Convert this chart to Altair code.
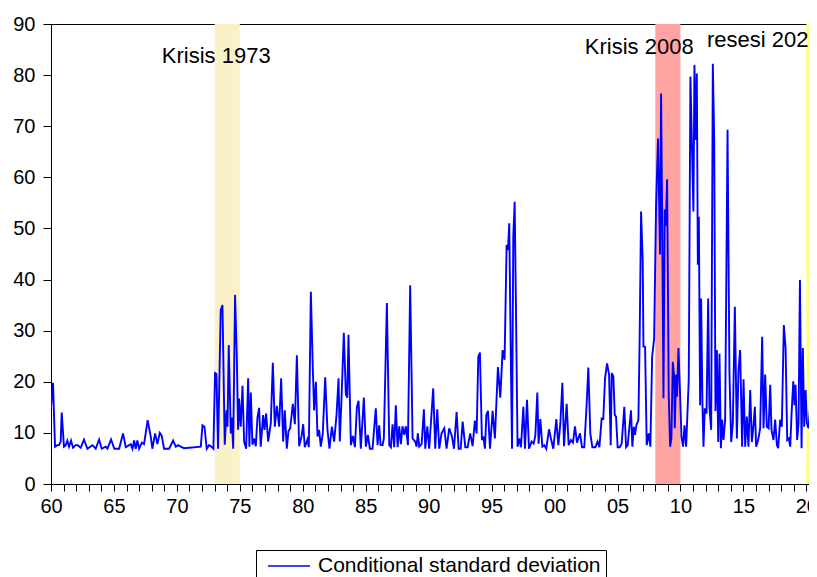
import altair as alt
import pandas as pd

# ---- data ----
years = [
    1960.0, 1960.16, 1960.32, 1960.5, 1960.64, 1960.77, 1960.85, 1961.03, 1961.15, 1961.3,
    1961.43, 1961.59, 1961.75, 1961.96, 1962.12, 1962.36, 1962.62, 1962.89, 1963.29, 1963.55,
    1963.82, 1964.03, 1964.35, 1964.48, 1964.77, 1965.03, 1965.41, 1965.72, 1965.94, 1966.33,
    1966.47, 1966.6, 1966.73, 1966.86, 1967.0, 1967.21, 1967.39, 1967.68, 1967.92, 1968.05,
    1968.27, 1968.45, 1968.64, 1968.8, 1968.98, 1969.38, 1969.7, 1969.91, 1970.12, 1970.31,
    1970.57, 1971.9, 1972.03, 1972.19, 1972.37, 1972.56, 1972.74, 1972.9,
    1973.03, 1973.14, 1973.27, 1973.48, 1973.62, 1973.8, 1973.94, 1974.02, 1974.12, 1974.28,
    1974.36, 1974.47, 1974.62, 1974.76, 1974.86, 1974.94, 1975.07, 1975.21, 1975.34, 1975.5,
    1975.66, 1975.76, 1975.87, 1976.0, 1976.13, 1976.27, 1976.4, 1976.53, 1976.66, 1976.85,
    1976.96, 1977.09, 1977.25, 1977.46, 1977.62, 1977.78, 1977.94, 1978.12, 1978.28, 1978.44,
    1978.57, 1978.73, 1978.86, 1979.0, 1979.21, 1979.37, 1979.53, 1979.71, 1979.9, 1980.03,
    1980.16, 1980.37, 1980.48, 1980.64, 1980.8, 1980.9, 1981.04, 1981.17, 1981.3, 1981.43,
    1981.59, 1981.78, 1981.96, 1982.12, 1982.31, 1982.49, 1982.68, 1982.84, 1982.94, 1983.08,
    1983.26, 1983.42, 1983.53, 1983.63, 1983.82, 1983.98, 1984.14, 1984.3, 1984.43, 1984.61,
    1984.85,
    1985.01, 1985.17, 1985.33, 1985.54, 1985.8, 1985.94, 1986.07, 1986.18, 1986.34, 1986.44,
    1986.68, 1986.87, 1987.0, 1987.13, 1987.26, 1987.39, 1987.53, 1987.66, 1987.79, 1987.92,
    1988.06, 1988.19, 1988.35, 1988.53, 1988.72, 1988.93, 1989.04, 1989.14, 1989.25, 1989.44,
    1989.62, 1989.73, 1989.89, 1990.04, 1990.36, 1990.52, 1990.68, 1990.84, 1991.02, 1991.24,
    1991.42, 1991.63, 1991.85, 1992.01, 1992.22, 1992.38, 1992.54, 1992.7, 1992.91, 1993.09,
    1993.3, 1993.49, 1993.67, 1993.81, 1993.94, 1994.07, 1994.23, 1994.34, 1994.47, 1994.58,
    1994.71, 1994.87, 1995.08, 1995.26, 1995.5, 1995.69, 1995.87, 1996.03, 1996.19, 1996.3,
    1996.4, 1996.51, 1996.62, 1996.72, 1996.83, 1996.93, 1997.06,
    1997.2, 1997.33, 1997.52, 1997.65, 1997.81, 1997.97, 1998.18, 1998.34, 1998.47, 1998.63,
    1998.73, 1998.87, 1999.03, 1999.18, 1999.34, 1999.56, 1999.71, 1999.9, 2000.14, 2000.3,
    2000.46, 2000.62, 2000.75, 2000.96, 2001.12, 2001.3, 2001.46, 2001.62, 2001.78, 2002.02,
    2002.18, 2002.36, 2002.55, 2002.68, 2002.84, 2003.0, 2003.24, 2003.42, 2003.56, 2003.74,
    2003.87, 2004.01, 2004.17, 2004.33, 2004.46, 2004.54, 2004.67, 2004.78, 2004.88, 2005.01,
    2005.17, 2005.33, 2005.54, 2005.68, 2005.81, 2005.94, 2006.07, 2006.18, 2006.29, 2006.39,
    2006.5, 2006.66, 2006.76, 2006.87, 2007.0, 2007.06, 2007.19, 2007.32, 2007.48, 2007.61,
    2007.75, 2007.91,
    2008.06, 2008.22, 2008.38, 2008.46, 2008.54, 2008.65, 2008.75, 2008.83, 2008.94, 2009.07,
    2009.18, 2009.28, 2009.39, 2009.5, 2009.55, 2009.65, 2009.73, 2009.84, 2009.95, 2010.08,
    2010.21, 2010.32, 2010.45, 2010.66, 2010.79, 2010.93, 2011.03, 2011.11, 2011.22, 2011.3,
    2011.38, 2011.46, 2011.56, 2011.64, 2011.75, 2011.83, 2011.93, 2012.07, 2012.2, 2012.3,
    2012.44, 2012.57, 2012.68, 2012.78, 2012.89, 2013.0, 2013.1, 2013.21, 2013.31, 2013.42,
    2013.55, 2013.74, 2013.89, 2014.03, 2014.16, 2014.32, 2014.48, 2014.61, 2014.74, 2014.9,
    2015.01, 2015.14, 2015.27, 2015.4, 2015.54, 2015.67, 2015.8, 2015.91, 2016.01, 2016.17,
    2016.33, 2016.49, 2016.6, 2016.73, 2016.86, 2017.0, 2017.13, 2017.23, 2017.39, 2017.52,
    2017.66, 2017.76, 2017.92, 2018.05, 2018.21, 2018.35, 2018.48, 2018.61, 2018.72, 2018.82,
    2018.96, 2019.06, 2019.14, 2019.27, 2019.38, 2019.49, 2019.62, 2019.72, 2019.83, 2019.94,
    2020.04, 2020.17, 2020.28, 2020.39, 2020.47, 2020.57, 2020.68, 2020.81,
]

values = [
    14.9, 19.8, 7.3, 7.6, 7.6, 8.3, 14.0, 7.3, 7.5, 8.5,
    7.3, 8.5, 7.1, 7.6, 7.6, 7.1, 8.7, 6.9, 7.6, 6.9,
    8.7, 6.9, 7.3, 6.9, 8.7, 6.9, 6.9, 9.9, 7.2, 7.8,
    6.9, 8.5, 6.9, 8.5, 6.9, 8.1, 7.8, 12.5, 9.3, 6.9,
    9.9, 7.8, 10.0, 9.4, 6.9, 6.9, 8.5, 7.3, 7.6, 7.3,
    7.0, 7.3, 11.5, 11.2, 6.9, 7.6, 7.3, 6.9,
    21.7, 21.5, 6.9, 34.0, 35.0, 7.7, 14.4, 11.2, 27.2, 9.9,
    13.0, 6.9, 37.0, 24.9, 10.6, 16.7, 11.2, 19.2, 8.3, 6.9,
    20.7, 7.3, 17.9, 7.7, 8.9, 7.4, 13.0, 14.9, 7.3, 13.5,
    10.6, 13.8, 8.3, 11.9, 23.7, 11.2, 15.3, 11.2, 20.7, 8.3,
    14.4, 6.9, 10.3, 10.9, 15.7, 11.7, 25.2, 7.4, 9.3, 11.7,
    7.2, 8.7, 7.2, 37.6, 22.3, 14.4, 20.0, 9.3, 10.6, 7.3,
    9.9, 20.9, 10.6, 6.9, 11.2, 8.3, 13.5, 20.7, 8.3, 16.9,
    29.6, 17.6, 16.9, 29.2, 7.6, 9.4, 7.2, 15.1, 16.3, 6.9,
    16.9,
    7.3, 9.6, 6.9, 6.9, 14.8, 7.6, 11.5, 7.6, 7.6, 8.9,
    35.4, 7.6, 7.2, 11.7, 7.2, 15.4, 7.2, 11.3, 7.8, 11.3,
    9.6, 11.3, 7.6, 38.9, 8.9, 8.3, 7.3, 9.9, 7.3, 7.8,
    14.6, 6.9, 11.3, 6.9, 18.7, 6.9, 14.6, 6.9, 9.9, 10.9,
    6.9, 10.9, 9.3, 6.9, 14.1, 6.9, 6.9, 12.2, 7.2, 7.2,
    9.9, 7.4, 12.4, 9.9, 24.9, 25.7, 8.6, 9.3, 6.9, 13.5,
    14.3, 6.9, 14.3, 8.9, 22.9, 16.9, 26.2, 24.3, 46.8, 45.8,
    51.0, 27.5, 6.9, 48.4, 55.2, 35.0, 7.3,
    8.9, 7.2, 15.1, 6.9, 16.5, 6.9, 8.3, 7.9, 9.4, 17.9,
    7.9, 12.7, 7.3, 7.6, 6.9, 10.7, 8.9, 6.9, 12.7, 7.6,
    11.9, 19.8, 7.4, 15.7, 7.6, 8.6, 8.1, 11.3, 8.1, 9.9,
    7.2, 7.2, 15.7, 22.8, 9.9, 7.2, 7.2, 8.3, 7.2, 12.8,
    12.7, 20.7, 23.6, 21.4, 7.6, 21.7, 21.1, 13.5, 13.2, 7.2,
    7.2, 7.9, 15.1, 7.2, 7.6, 11.1, 14.4, 7.3, 11.2, 9.6,
    11.5, 12.5, 28.9, 53.3, 43.9, 26.9, 26.8, 7.6, 9.9, 7.3,
    24.9, 28.5,
    54.3, 67.6, 44.9, 76.4, 54.3, 16.8, 53.7, 50.5, 59.6, 17.1,
    7.3, 8.9, 23.9, 21.0, 10.9, 21.4, 17.1, 26.6, 19.0, 9.2,
    7.3, 11.5, 7.3, 20.5, 79.7, 64.1, 53.3, 82.0, 67.3, 80.3,
    42.9, 52.3, 15.4, 36.3, 15.1, 7.3, 14.8, 13.8, 36.3, 15.1,
    10.6, 82.2, 67.3, 14.3, 26.2, 8.2, 25.5, 7.0, 12.6, 8.6,
    12.6, 69.3, 21.8, 8.2, 11.9, 34.7, 8.9, 22.3, 26.2, 7.3,
    20.5, 7.3, 13.2, 7.3, 18.4, 8.2, 11.5, 15.1, 7.3, 8.6,
    10.9, 28.8, 10.9, 21.4, 11.2, 10.9, 19.4, 10.6, 8.6, 12.6,
    7.6, 7.0, 12.6, 11.2, 31.1, 26.6, 8.6, 8.9, 7.3, 13.5,
    20.1, 15.4, 19.4, 8.6, 11.9, 39.9, 7.0, 26.6, 11.2, 18.4,
    11.9, 10.9, 14.5, 16.8, 10.9, 17.1, 33.3, 45.0,
]

series_name = "Conditional standard deviation"

band_start = [1973, 2008, 2020]
band_end = [1975, 2010, 2021]
band_color = ["#FBF1C8", "#FFA3A3", "#FFFF80"]

ann_x = [1968.8, 2002.4, 2012.1]
ann_y = [82.4, 84.1, 85.5]
ann_text = ["Krisis 1973", "Krisis 2008", "resesi 2020"]

x_ticks = list(range(1960, 2021))
y_ticks = list(range(0, 100, 10))

FONT = "Liberation Sans"

series_df = pd.DataFrame({"year": years, "value": values, "series": series_name})
bands_df = pd.DataFrame({"start": band_start, "end": band_end, "color": band_color})
ann_df = pd.DataFrame({"x": ann_x, "y": ann_y, "label": ann_text})

x_scale = alt.Scale(domain=[1960, 2020.21], nice=False, zero=False, padding=0)
y_scale = alt.Scale(domain=[0, 90], nice=False, padding=0)

x_axis = alt.Axis(
    values=x_ticks,
    labelExpr="datum.value % 5 == 0 ? (datum.value % 100 < 10 ? '0' + (datum.value % 100) : '' + (datum.value % 100)) : ''",
    title=None, grid=False, tickSize=7, labelPadding=5, labelFontSize=20,
    labelFont=FONT, labelColor="black", domainColor="black", tickColor="black",
    labelOverlap=False, labelFlush=False,
)
y_axis = alt.Axis(
    values=y_ticks, title=None, grid=False, tickSize=8, labelPadding=8,
    labelFontSize=20, labelFont=FONT, labelColor="black", domainColor="black",
    tickColor="black", labelOverlap=False, labelFlush=False,
)

bands = alt.Chart(bands_df).mark_rect(clip=True).encode(
    x=alt.X("start:Q", scale=x_scale, axis=x_axis),
    x2="end:Q",
    fill=alt.Fill("color:N", scale=None),
)

line = alt.Chart(series_df).mark_line(strokeWidth=1.9, clip=True).encode(
    x=alt.X("year:Q", scale=x_scale, axis=x_axis),
    y=alt.Y("value:Q", scale=y_scale, axis=y_axis),
    color=alt.Color(
        "series:N",
        scale=alt.Scale(domain=[series_name], range=["#0000FF"]),
        legend=alt.Legend(
            title=None, orient="none", legendX=205, legendY=526,
            direction="horizontal", strokeColor="black", fillColor="white",
            padding=5, symbolType="M-0.4,0H3.8", symbolSize=400,
            symbolStrokeWidth=1.5, symbolFillColor="transparent",
            labelFontSize=21, labelFont=FONT,
            labelColor="black", labelLimit=600, labelOffset=35,
        ),
    ),
)

texts = alt.Chart(ann_df).mark_text(
    align="left", baseline="alphabetic", fontSize=22, font=FONT, color="black"
).encode(
    x=alt.X("x:Q", scale=x_scale, axis=x_axis),
    y=alt.Y("y:Q", scale=y_scale, axis=y_axis),
    text="label:N",
)

chart = alt.layer(bands, line, texts).properties(
    width=758, height=460,
    padding={"left": 43, "top": 16, "right": 0, "bottom": 120},
    autosize=alt.AutoSizeParams(type="none"),
    background="white",
).configure_view(stroke="black", strokeWidth=1)

chart.save("out.html", embed_options={"renderer": "svg", "actions": False})
